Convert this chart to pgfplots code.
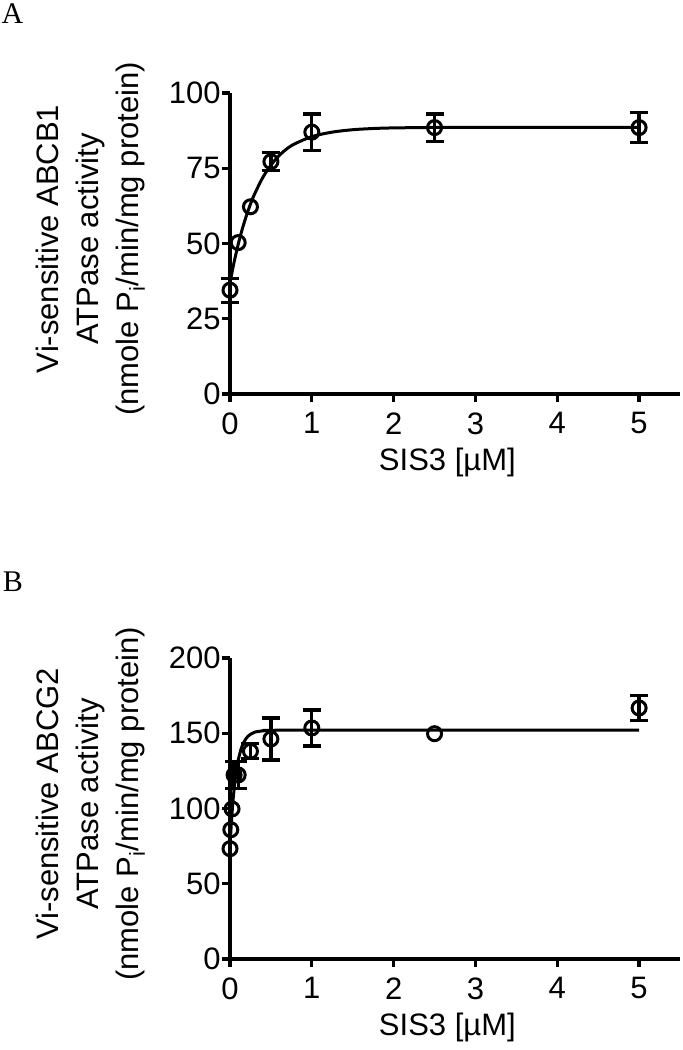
\documentclass[border=0pt]{standalone}
\usepackage{fontspec}
\setmainfont{Liberation Sans}
\newfontfamily\panelfont{Liberation Serif}
\usepackage{pgfplots}
\usepackage{pgfplotstable}
\pgfplotsset{compat=1.18}

% measured points (x in uM, y activity, y error)
\pgfplotstableread{
x     y     e
0     34.5  4
0.5   77.2  3
1     87.0  6
2.5   88.5  4.5
5     88.5  5
}\abcbErr
\pgfplotstableread{
x     y
0.1   50.3
0.25  62.2
}\abcbPlain
\pgfplotstableread{
x     y      e
0.05  122.3  9
0.1   122.3  9
0.25  138.0  5
0.5   146.2  14
1     153.5  12
5     166.8  8.5
}\abcgErr
\pgfplotstableread{
x      y
0      73.3
0.01   85.9
0.025  99.7
2.5    149.7
}\abcgPlain

\pgfplotsset{
  prism/.style={
    scale only axis, width=225pt, height=150.5pt,
    xmin=0, xmax=5.5, ymin=0,
    clip=false,
    axis x line*=bottom, axis y line*=left,
    axis line style={line width=1.6pt, -},
    tick style={line width=1.6pt, black},
    tick align=outside, major tick length=4pt,
    minor tick num=0,
    xtick={0,1,2,3,4,5},
    /pgf/number format/assume math mode=true,
    tick label style={font=\fontsize{15.5}{20}\selectfont},
    yticklabel style={inner sep=0.5pt},
    xticklabel style={inner sep=0pt, yshift=-5pt},
    label style={font=\fontsize{15.5}{20}\selectfont},
    xlabel={SIS3 [µM]},
    xlabel style={at={(axis description cs:0.483,-0.229)}, anchor=center},
    ylabel style={at={(axis description cs:-0.309,0.515)}, anchor=center, align=center},
  },
  pts/.style={only marks, mark=o, mark size=3.5pt, black,
    mark options={line width=1.5pt}},
  errs/.style={pts,
    error bars/.cd, y dir=both, y explicit,
    error bar style={line width=1.6pt},
    error mark options={rotate=90, line width=1.6pt, mark size=4.5pt}},
  fit/.style={black, line width=1.5pt, no marks, smooth},
}

\begin{document}
\begin{tikzpicture}
\useasboundingbox (0,0) rectangle (341.5pt,525pt);

\node[font=\panelfont\fontsize{15}{17}\selectfont] at (6.25pt,518.25pt) {A};
\node[font=\panelfont\fontsize{15}{17}\selectfont] at (6.5pt,234pt) {B};

\begin{axis}[prism, at={(115pt,328pt)}, anchor=south west,
    ymax=100, ytick={0,25,50,75,100},
    ylabel={Vi-sensitive ABCB1\\ATPase activity\\(nmole P\textsubscript{i}/min/mg protein)}]
\addplot[fit] coordinates {
  (0,37) (0.05,43.8) (0.1,49.7) (0.15,54.8) (0.2,59.2) (0.25,63.1)
  (0.3,66.4) (0.4,71.9) (0.5,76.0) (0.6,79.2) (0.75,82.5) (1,85.5)
  (1.25,87.0) (1.5,87.8) (1.75,88.2) (2,88.4) (2.5,88.55) (3,88.6) (5,88.6)
};
\addplot[errs] table[x=x, y=y, y error=e] {\abcbErr};
\addplot[pts] table[x=x, y=y] {\abcbPlain};
\end{axis}

\begin{axis}[prism, at={(115pt,45.5pt)}, anchor=south west,
    ymax=200, ytick={0,50,100,150,200},
    ylabel={Vi-sensitive ABCG2\\ATPase activity\\(nmole P\textsubscript{i}/min/mg protein)}]
\addplot[fit] coordinates {
  (0,75) (0.02,93.2) (0.04,107.1) (0.06,117.7) (0.08,125.8) (0.1,132)
  (0.125,137.5) (0.15,141.8) (0.2,146.8) (0.25,149.3) (0.3,150.7)
  (0.4,151.6) (0.5,151.9) (0.75,152) (5,152)
};
\addplot[errs] table[x=x, y=y, y error=e] {\abcgErr};
\addplot[pts] table[x=x, y=y] {\abcgPlain};
\end{axis}
\end{tikzpicture}
\end{document}
